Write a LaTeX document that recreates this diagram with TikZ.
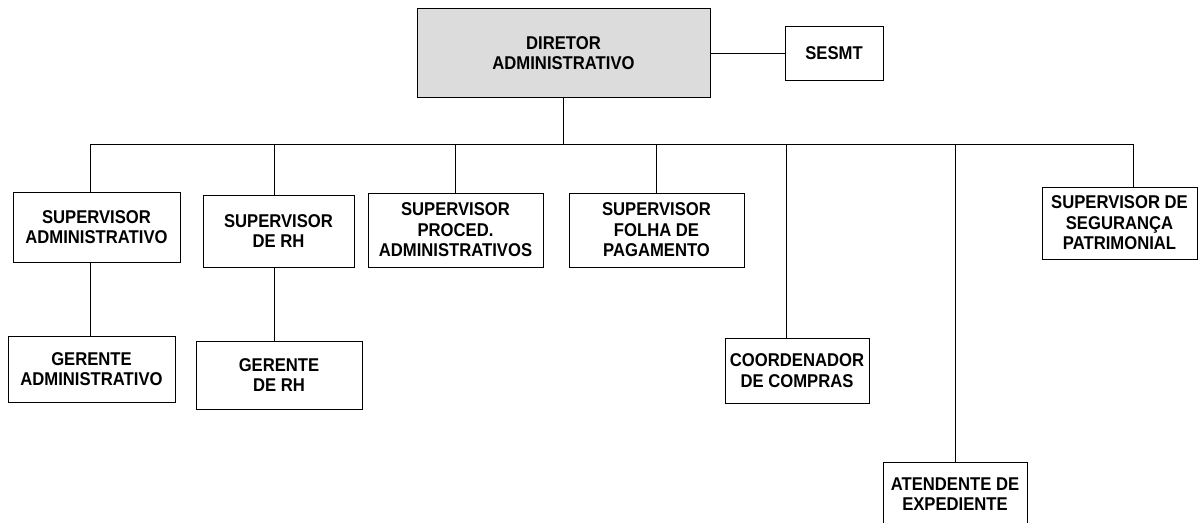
\documentclass[tikz,border=0pt]{standalone}
\usepackage{fontspec}
\setmainfont[FakeStretch=0.9]{Liberation Sans}
\definecolor{dirgray}{RGB}{220,220,220}
\tikzset{
  cargo/.style={draw, line width=1pt, align=center, inner sep=0pt,
    font=\bfseries\fontsize{18.5}{20.5}\selectfont},
  linha/.style={line width=1pt}
}
\begin{document}
\begin{tikzpicture}[x=1pt,y=-1pt]
        \clip (0,0) rectangle (1198,522);
        \node[cargo,fill=dirgray,minimum width=293pt,minimum height=89pt] (dir) at (563.5,53) {DIRETOR\\ADMINISTRATIVO};
        \node[cargo,minimum width=98pt,minimum height=54pt] (sesmt) at (834,53) {SESMT};
        \node[cargo,minimum width=167pt,minimum height=70pt] (supadm) at (96.5,227) {SUPERVISOR\\ADMINISTRATIVO};
        \node[cargo,minimum width=151pt,minimum height=72pt] (suprh) at (278.5,231) {SUPERVISOR\\DE RH};
        \node[cargo,minimum width=175pt,minimum height=74pt] (supproc) at (455.5,230) {SUPERVISOR\\PROCED.\\ADMINISTRATIVOS};
        \node[cargo,minimum width=175pt,minimum height=74pt] (supfolha) at (656.5,230) {SUPERVISOR\\FOLHA DE\\PAGAMENTO};
        \node[cargo,minimum width=155pt,minimum height=72pt] (supseg) at (1119.5,223) {SUPERVISOR DE\\SEGURANÇA\\PATRIMONIAL};
        \node[cargo,minimum width=167pt,minimum height=66pt] (geradm) at (91.5,369) {GERENTE\\ADMINISTRATIVO};
        \node[cargo,minimum width=166pt,minimum height=68pt] (gerrh) at (279,375) {GERENTE\\DE RH};
        \node[cargo,minimum width=144pt,minimum height=65pt] (coord) at (797,370.5) {COORDENADOR\\DE COMPRAS};
        \node[cargo,minimum width=144pt,minimum height=64pt] (atend) at (955,494) {ATENDENTE DE\\EXPEDIENTE};
        \coordinate (b1) at (90,144);
        \coordinate (b2) at (274,144);
        \coordinate (b5) at (786,144);
        \coordinate (b6) at (955,144);
        \coordinate (b7) at (1133,144);
        \draw[linha] (dir.east) -- (sesmt.west);
        \draw[linha] (dir.south) -- (dir.south |- b1);
        \draw[linha] (b1) -- (b7);
        \draw[linha] (b1) -- (b1 |- supadm.north);
        \draw[linha] (b2) -- (b2 |- suprh.north);
        \draw[linha] (supproc.north) -- (supproc.north |- b1);
        \draw[linha] (supfolha.north) -- (supfolha.north |- b1);
        \draw[linha] (b5) -- (b5 |- coord.north);
        \draw[linha] (b6) -- (atend.north);
        \draw[linha] (b7) -- (b7 |- supseg.north);
        \draw[linha] (supadm.south -| b1) -- (geradm.north -| b1);
        \draw[linha] (suprh.south -| b2) -- (gerrh.north -| b2);
    \end{tikzpicture}
\end{document}
